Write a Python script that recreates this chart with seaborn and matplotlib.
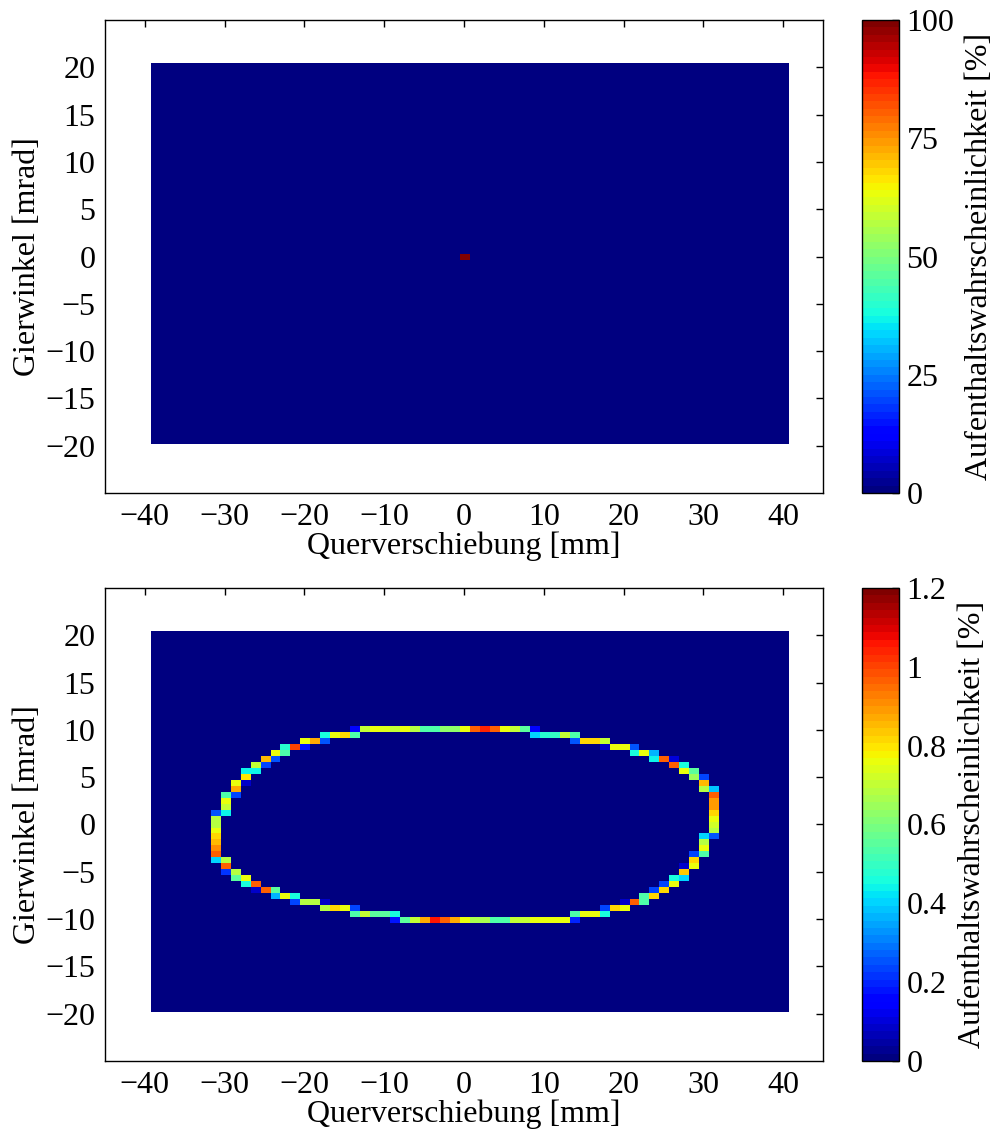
import numpy as np
import pandas as pd
import matplotlib
matplotlib.use("Agg")
import matplotlib.pyplot as plt
import seaborn as sns

# grid of the 2D histogram (cell edges in mm / mrad)
x_start, x_step, n_x = -39.25, 1.25, 64
y_start, y_step, n_y = -19.85, 0.63, 64

x_ticks = [-40, -30, -20, -10, 0, 10, 20, 30, 40]
y_ticks = [-20, -15, -10, -5, 0, 5, 10, 15, 20]

# top plot: everything in one cell
peak_col, peak_row, peak_val = 31, 31, 100.0
top_cticks = [0, 25, 50, 75, 100]
top_clabels = ["0", "25", "50", "75", "100"]

# bottom plot: ring of cells, rows counted from the top row of the ring
ring_top_row = 47
ring_cols = [
    20, 21, 22, 23, 24, 25, 26, 27, 28, 29, 30, 31, 32, 33, 34, 35, 36, 37, 38,
    17, 18, 19, 20, 38, 39, 40, 41, 42,
    15, 16, 17, 42, 43, 44, 45,
    13, 14, 15, 45, 46, 47, 48,
    12, 13, 48, 49, 50,
    11, 12, 50, 51, 52,
    10, 11, 52, 53,
    9, 10, 53, 54,
    9, 54, 55,
    8, 9, 55,
    8, 55, 56,
    7, 8, 56,
    7, 56,
    7, 56,
    6, 7, 56,
    6, 56,
    6, 56,
    6, 56,
    6, 55, 56,
    6, 55,
    6, 55,
    6, 54, 55,
    6, 7, 54,
    7, 53, 54,
    7, 8, 53,
    8, 9, 52, 53,
    9, 10, 51, 52,
    10, 11, 12, 50, 51,
    12, 13, 14, 49, 50,
    14, 15, 16, 17, 47, 48, 49,
    17, 18, 19, 20, 45, 46, 47,
    20, 21, 22, 23, 24, 42, 43, 44, 45,
    24, 25, 26, 27, 28, 29, 30, 31, 32, 33, 34, 35, 36, 37, 38, 39, 40, 41, 42,
]
ring_rows = (
    [0] * 19 + [1] * 9 + [2] * 7 + [3] * 7 + [4] * 5 + [5] * 5 + [6] * 4
    + [7] * 4 + [8] * 3 + [9] * 3 + [10] * 3 + [11] * 3 + [12] * 2 + [13] * 2
    + [14] * 3 + [15] * 2 + [16] * 2 + [17] * 2 + [18] * 3 + [19] * 2
    + [20] * 2 + [21] * 3 + [22] * 3 + [23] * 3 + [24] * 3 + [25] * 4
    + [26] * 4 + [27] * 5 + [28] * 5 + [29] * 7 + [30] * 7 + [31] * 9
    + [32] * 19
)
ring_vals = [
    0.15, 0.70, 0.75, 0.74, 0.70, 0.75, 0.69, 0.53, 0.53, 0.63, 0.63, 0.75, 0.96, 1.04, 0.96, 0.75, 0.70, 0.55, 0.16,
    0.45, 0.75, 0.81, 0.53, 0.40, 0.47, 0.50, 0.70, 0.53,
    0.75, 0.87, 0.25, 0.25, 0.81, 0.81, 0.70,
    0.47, 1.00, 0.18, 0.08, 0.76, 0.76, 0.25,
    0.75, 0.53, 0.45, 0.75, 0.36,
    0.86, 0.25, 0.44, 0.96, 0.10,
    0.70, 0.24, 0.96, 0.45,
    0.44, 0.44, 0.75, 0.55,
    0.80, 0.64, 0.24,
    0.75, 0.08, 0.86,
    0.88, 0.68, 0.38,
    0.53, 0.24, 0.96,
    0.75, 0.89,
    0.70, 0.89,
    0.26, 0.44, 0.82,
    0.69, 0.76,
    0.69, 0.73,
    0.75, 0.68,
    0.82, 0.40, 0.25,
    0.86, 0.68,
    0.90, 0.75,
    0.97, 0.24, 0.53,
    0.40, 0.68, 0.81,
    0.96, 0.08, 0.76,
    0.22, 0.68, 0.84,
    0.55, 0.75, 0.45, 0.40,
    0.45, 0.96, 0.24, 0.75,
    0.08, 0.96, 0.55, 0.24, 0.81,
    0.36, 0.75, 0.45, 0.53, 0.81,
    0.24, 0.68, 0.68, 0.08, 0.08, 0.96, 0.53,
    0.68, 0.81, 0.76, 0.24, 0.24, 0.81, 0.75,
    0.53, 0.70, 0.55, 0.55, 0.45, 0.53, 0.75, 0.75, 0.45,
    0.18, 0.55, 0.70, 0.87, 1.05, 0.96, 0.87, 0.75, 0.66, 0.66, 0.53, 0.53, 0.70, 0.70, 0.76, 0.76, 0.76, 0.76, 0.20,
]
bottom_cticks = [0, 0.2, 0.4, 0.6, 0.8, 1.0, 1.2]
bottom_clabels = ["0", "0.2", "0.4", "0.6", "0.8", "1", "1.2"]

top_grid = np.zeros((n_y, n_x))
top_grid[peak_row, peak_col] = peak_val
bottom_grid = np.zeros((n_y, n_x))
bottom_grid[ring_top_row - np.array(ring_rows), np.array(ring_cols)] = ring_vals

sns.set_style("white")
plt.rcParams["font.family"] = ["Liberation Serif", "DejaVu Serif"]
plt.rcParams["text.color"] = "black"
plt.rcParams["axes.labelcolor"] = "black"
plt.rcParams["xtick.color"] = "black"
plt.rcParams["ytick.color"] = "black"

jet64 = matplotlib.colormaps["jet"].resampled(64)
FS = 23


def minus(v):
    return str(v).replace("-", "\u2212")


def draw(ax, cax, grid, vmax, cticks, clabels):
    sns.heatmap(pd.DataFrame(grid), ax=ax, cbar_ax=cax, cmap=jet64, vmin=0, vmax=vmax,
                xticklabels=False, yticklabels=False, cbar_kws={"ticks": cticks})
    ax.set_xlim((-45 - x_start) / x_step, (45 - x_start) / x_step)
    ax.set_ylim((-25 - y_start) / y_step, (25 - y_start) / y_step)
    ax.set_xticks([(t - x_start) / x_step for t in x_ticks])
    ax.set_xticklabels([minus(t) for t in x_ticks])
    ax.set_yticks([(t - y_start) / y_step for t in y_ticks])
    ax.set_yticklabels([minus(t) for t in y_ticks], rotation=0)
    for s in ax.spines.values():
        s.set_visible(True)
        s.set_linewidth(1.0)
        s.set_color("black")
    ax.tick_params(direction="in", top=True, right=True, length=5, width=1,
                   labelsize=FS, pad=7)
    ax.set_xlabel("Querverschiebung [mm]", fontsize=FS, labelpad=0)
    ax.set_ylabel("Gierwinkel [mrad]", fontsize=FS, labelpad=2)

    cbar = ax.collections[0].colorbar
    cbar.outline.set_linewidth(1.0)
    cbar.outline.set_edgecolor("black")
    cbar.set_ticks(cticks)
    cbar.set_ticklabels(clabels)
    cax.tick_params(direction="in", length=5, width=1, labelsize=FS, pad=5)
    cbar.set_label("Aufenthaltswahrscheinlichkeit [%]", fontsize=FS, labelpad=8)


fig = plt.figure(figsize=(9.95, 11.38), dpi=100)
ax1 = fig.add_axes([0.1055, 0.5668, 0.7216, 0.4156])
cax1 = fig.add_axes([0.866, 0.5668, 0.038, 0.4156])
ax2 = fig.add_axes([0.1055, 0.0677, 0.7216, 0.4156])
cax2 = fig.add_axes([0.866, 0.0677, 0.038, 0.4156])

draw(ax1, cax1, top_grid, 100, top_cticks, top_clabels)
draw(ax2, cax2, bottom_grid, 1.2, bottom_cticks, bottom_clabels)

fig.savefig("out.png", dpi=100)
